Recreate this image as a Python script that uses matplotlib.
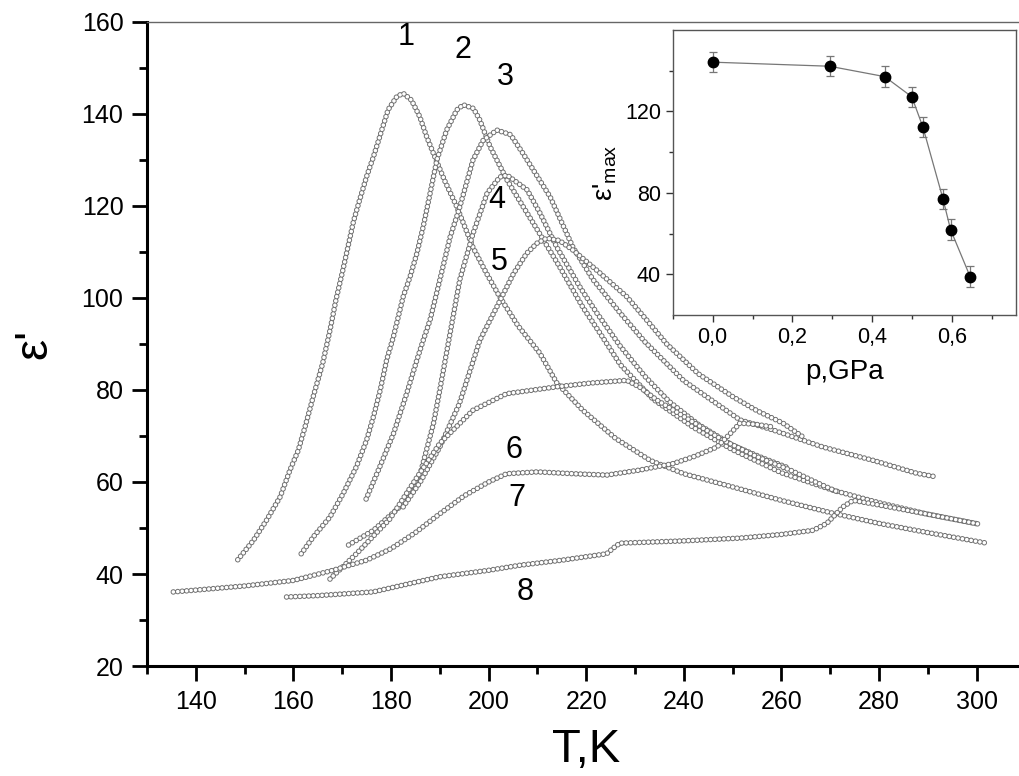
import matplotlib
matplotlib.use('Agg')
import matplotlib.pyplot as plt
from matplotlib.ticker import MultipleLocator, FixedLocator, FuncFormatter

plt.rcParams['font.family'] = ['Liberation Sans', 'DejaVu Sans']
plt.rcParams['mathtext.default'] = 'regular'
plt.rcParams['lines.scale_dashes'] = False

# curves eps'(T) for the eight pressures
t1 = [148.6, 151.8, 154.5, 157.3, 159.3, 161.0, 162.5, 164.1, 166.0, 167.5, 168.7, 170.1, 171.3, 172.3,
      173.4, 175.0, 176.4, 177.7, 179.4, 181.2, 182.5, 184.2, 185.9, 187.3, 188.7, 191.0, 193.5, 196.8,
      199.5, 202.3, 206.0, 210.5, 214.0, 219.3, 226.0, 233.1, 240.0, 250.1, 260.0, 270.6, 280.0, 290.0, 302.1]
e1 = [43.1, 47.3, 51.7, 56.8, 62.6, 66.9, 72.4, 78.7, 85.8, 93.0, 99.5, 105.9, 111.7, 116.6,
      120.7, 126.4, 130.7, 135.1, 140.9, 143.8, 144.5, 143.0, 139.4, 135.1, 131.4, 125.5, 119.8, 111.0,
      105.5, 100.2, 94.0, 88.0, 81.5, 75.6, 69.5, 64.7, 61.8, 58.9, 56.0, 53.2, 51.0, 49.0, 46.7]

t2 = [161.6, 164.1, 167.5, 170.2, 172.9, 175.0, 176.4, 177.8, 179.1, 180.5, 182.5, 183.9, 185.3, 186.6,
      188.0, 189.4, 191.4, 193.5, 194.8, 196.9, 198.2, 200.3, 203.8, 207.0, 210.0, 214.6, 219.3, 222.8,
      227.0, 233.7, 241.9, 250.0, 260.0, 270.6, 280.0, 290.0, 300.7]
e2 = [44.4, 48.1, 52.4, 57.5, 63.3, 69.1, 74.2, 80.0, 86.5, 91.6, 100.3, 104.6, 109.7, 115.5,
      122.7, 130.0, 136.5, 140.9, 142.0, 141.2, 138.7, 132.9, 125.6, 120.0, 114.8, 106.7, 98.0, 92.4,
      85.5, 78.0, 71.9, 67.0, 62.0, 58.2, 55.5, 53.0, 50.8]

t3 = [174.9, 177.7, 180.5, 183.2, 185.3, 186.6, 188.0, 190.0, 192.1, 194.1, 196.8, 198.9, 201.7, 204.5,
      207.0, 212.6, 217.3, 221.4, 227.0, 232.0, 240.0, 251.5, 258.3, 268.5, 278.8, 287.7, 291.8]
e3 = [56.3, 63.3, 70.5, 79.2, 86.5, 90.8, 95.2, 103.9, 113.2, 119.8, 130.0, 134.3, 136.5, 135.5,
      131.5, 122.0, 111.0, 104.0, 96.7, 90.5, 82.0, 73.5, 71.3, 67.6, 64.7, 61.9, 61.1]

t4 = [171.3, 176.4, 181.8, 186.0, 188.7, 190.0, 194.1, 196.8, 199.7, 202.3, 203.8, 207.9, 210.5, 214.0,
      218.7, 222.2, 227.0, 232.0, 237.0, 243.0, 250.0, 256.0, 261.1]
e4 = [46.3, 49.5, 54.6, 61.8, 72.7, 80.0, 104.0, 114.0, 122.8, 126.3, 126.7, 123.5, 118.5, 111.0,
      102.4, 96.7, 89.5, 83.0, 77.5, 72.5, 68.0, 65.3, 63.2]

t5 = [182.5, 186.0, 190.0, 194.0, 198.2, 201.7, 205.1, 207.8, 209.9, 211.9, 214.5, 217.3, 222.2, 228.3,
      232.4, 236.5, 243.0, 250.1, 255.0, 260.3, 264.4]
e5 = [54.6, 60.0, 67.6, 77.0, 90.8, 98.1, 105.3, 109.7, 111.9, 113.0, 112.5, 110.4, 106.0, 100.3,
      95.2, 90.0, 83.5, 78.5, 75.5, 72.8, 69.8]

t6 = [167.5, 173.0, 179.8, 185.0, 190.0, 196.8, 203.7, 214.0, 220.8, 228.3, 231.0, 234.5, 241.3, 248.0,
      255.0, 262.0, 267.0, 271.6]
e6 = [38.9, 44.5, 52.0, 60.5, 68.4, 75.6, 79.2, 80.7, 81.5, 82.1, 80.6, 77.8, 73.4, 69.1,
      65.5, 62.5, 60.0, 57.8]

t7 = [135.4, 140.0, 150.0, 160.0, 168.1, 175.0, 180.0, 185.0, 190.0, 195.0, 200.0, 203.7, 210.0, 217.3,
      224.2, 231.0, 237.8, 242.0, 246.8, 249.5, 251.5, 255.0, 258.0]
e7 = [36.1, 36.5, 37.4, 38.6, 40.8, 43.0, 45.5, 49.0, 53.1, 57.0, 60.0, 61.8, 62.2, 61.8,
      61.5, 62.6, 64.0, 65.5, 67.6, 70.5, 72.8, 72.5, 72.0]

t8 = [158.6, 165.0, 176.3, 190.0, 200.0, 206.4, 215.0, 224.2, 225.5, 226.9, 240.0, 251.5, 260.0, 266.5,
      269.3, 272.6, 274.7, 280.0, 290.0, 300.7]
e8 = [35.0, 35.3, 36.1, 39.4, 40.8, 41.9, 43.0, 44.4, 45.6, 46.7, 47.2, 47.8, 48.6, 49.5,
      51.0, 54.6, 56.0, 55.0, 53.0, 50.8]

curve_names = ['1', '2', '3', '4', '5', '6', '7', '8']
label_T = [183.1, 194.8, 203.4, 201.7, 202.1, 205.2, 205.8, 207.5]
label_e = [156.7, 153.9, 148.0, 121.3, 107.8, 66.9, 56.5, 36.0]

# inset: eps'max vs pressure
p = [0.0, 0.293, 0.431, 0.499, 0.527, 0.577, 0.596, 0.645]
emax = [144.2, 142.2, 137.1, 127.2, 112.2, 77.1, 62.0, 38.9]
emax_err = [5, 5, 5, 5, 5, 5, 5, 5]

fig = plt.figure(figsize=(10.19, 7.76), dpi=100)
ax = fig.add_axes([147 / 1019, 1 - 666 / 776, (1025.4 - 147) / 1019, (666 - 22) / 776])

# chains of small open circles: gray round dots with a white dot on top
for t, e in [(t1, e1), (t2, e2), (t3, e3), (t4, e4), (t5, e5), (t6, e6), (t7, e7), (t8, e8)]:
    ax.plot(t, e, color='#707070', lw=4.0, dashes=(0.001, 3.2), dash_capstyle='round', zorder=2)
    ax.plot(t, e, color='white', lw=2.6, dashes=(0.001, 3.2), dash_capstyle='round', zorder=2)

for name, x, y in zip(curve_names, label_T, label_e):
    ax.text(x, y, name, fontsize=22, ha='center', va='center')

ax.set_xlim(130, 310)
ax.set_ylim(20, 160)
ax.xaxis.set_major_locator(MultipleLocator(20))
ax.xaxis.set_minor_locator(MultipleLocator(10))
ax.yaxis.set_major_locator(MultipleLocator(20))
ax.yaxis.set_minor_locator(MultipleLocator(10))
ax.tick_params(which='major', direction='out', length=11, width=2, labelsize=18, pad=6)
ax.tick_params(which='minor', direction='out', length=6, width=2)
for s in ['left', 'bottom']:
    ax.spines[s].set_linewidth(2.2)
ax.spines['top'].set_linewidth(1)
ax.spines['top'].set_color('#666666')
ax.spines['right'].set_visible(False)
ax.set_xlabel('T,K', fontsize=34, labelpad=10)
ax.set_ylabel("ε'", fontsize=34, labelpad=18)

# inset
axin = fig.add_axes([672.7 / 1019, 1 - 315 / 776, 343.3 / 1019, 285 / 776])
axin.errorbar(p, emax, yerr=emax_err, fmt='o', color='black', ms=7.5, ecolor='#777777',
              elinewidth=0.9, capsize=3, capthick=0.9, zorder=3)
axin.plot(p, emax, '-', color='#777777', lw=0.9, zorder=2)
axin.set_xlim(-0.1, 0.76)
axin.set_ylim(20, 160)
axin.xaxis.set_major_locator(MultipleLocator(0.2))
axin.xaxis.set_minor_locator(MultipleLocator(0.1))
axin.yaxis.set_major_locator(FixedLocator([40, 80, 120]))
axin.yaxis.set_minor_locator(FixedLocator([60, 100, 140]))
axin.xaxis.set_major_formatter(FuncFormatter(lambda v, pos: f'{v:.1f}'.replace('.', ',')))
axin.tick_params(which='major', direction='out', length=5, width=1, labelsize=15.5, colors='#333333')
axin.tick_params(which='minor', direction='out', length=3, width=1, colors='#333333')
axin.tick_params(labelcolor='black')
for s in axin.spines.values():
    s.set_linewidth(1)
    s.set_color('#555555')
axin.set_xlabel('p,GPa', fontsize=20, labelpad=8)
axin.set_ylabel("ε'$_{max}$", fontsize=20, labelpad=4)

fig.savefig('out.png', dpi=100)
